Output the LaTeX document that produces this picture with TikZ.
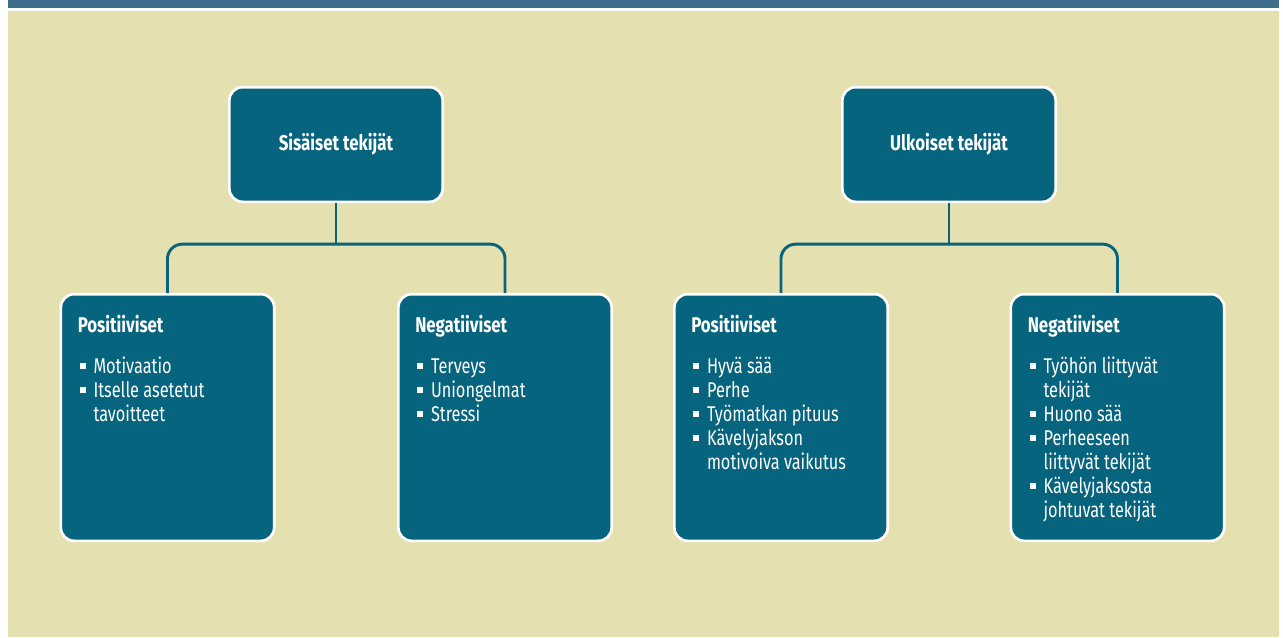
\documentclass[tikz,border=0pt]{standalone}
\usepackage{fontspec}
\usetikzlibrary{calc}
\newfontfamily\cardfont{Fira Sans}[FakeStretch=0.765]
\newfontfamily\headfont{Fira Sans}[FakeStretch=0.79]
\definecolor{band}{HTML}{3D6F8C}
\definecolor{sand}{HTML}{E5E0B0}
\definecolor{petrol}{HTML}{07647E}
\newcommand{\sqbullet}{\makebox[10.3pt][l]{\rule[3pt]{4.5pt}{4.5pt}}}
\newcommand{\sqindent}{\hspace*{10.3pt}}
\newcommand{\firstline}{\rule{0pt}{13pt}}
\tikzset{
  parent/.style={
    draw=white,fill=petrol,rounded corners=10pt,line width=2pt,
    minimum width=160pt,minimum height=86pt,inner sep=0pt,
    text=white,font=\headfont\bfseries\fontsize{16}{18}\selectfont
  },
  card/.style={
    draw=white,fill=petrol,rounded corners=10pt,line width=2pt,
    minimum width=160pt,minimum height=185pt,inner sep=0pt
  },
  heading/.style={text=white,inner sep=0pt,
    font=\headfont\bfseries\fontsize{16}{18}\selectfont},
  items/.style={text=white,inner sep=0pt,align=left,anchor=north west,
    font=\cardfont\fontsize{16}{18}\selectfont},
  link/.style={draw=petrol,line width=2.2pt,rounded corners=11pt}
}

\begin{document}
\begin{tikzpicture}[x=0.75pt,y=-0.75pt]
\useasboundingbox (0,0) rectangle (1283,637);

% background band and sand panel
\fill[band] (8,0) rectangle (1279,7.5);
\fill[sand] (8,10.5) rectangle (1279,637);

\node[parent] (sis) at (336,144.5) {Sisäiset tekijät};
\node[parent] (ulk) at (949,144.5) {Ulkoiset tekijät};

\foreach \name/\x/\title in {
  sisPos/167.5/Positiiviset,
  sisNeg/505/Negatiiviset,
  ulkPos/781/Positiiviset,
  ulkNeg/1117.5/Negatiiviset} {
  \node[card] (\name) at (\x,417.5) {};
  \node[heading,anchor=base west] (\name-h)
    at ($(\name.north west)+(18,40)$) {\title};
}

\foreach \pa/\ca/\cb in {sis/sisPos/sisNeg, ulk/ulkPos/ulkNeg} {
  \draw[link] (\pa.south) -- ++(0,41) coordinate (\pa-j);
  \draw[link] (\pa-j) -| (\ca.north);
  \draw[link] (\pa-j) -| (\cb.north);
}

% first baseline sits 80px below the card top
\node[items] (sisPos-l) at ($(sisPos.north west)+(20,62.7)$) {
  \firstline\sqbullet Motivaatio\\
  \sqbullet Itselle asetetut\\
  \sqindent tavoitteet};
\node[items] (sisNeg-l) at ($(sisNeg.north west)+(20,62.7)$) {
  \firstline\sqbullet Terveys\\
  \sqbullet Uniongelmat\\
  \sqbullet Stressi};
\node[items] (ulkPos-l) at ($(ulkPos.north west)+(20,62.7)$) {
  \firstline\sqbullet Hyvä sää\\
  \sqbullet Perhe\\
  \sqbullet Työmatkan pituus\\
  \sqbullet Kävelyjakson\\
  \sqindent motivoiva vaikutus};
\node[items] (ulkNeg-l) at ($(ulkNeg.north west)+(20,62.7)$) {
  \firstline\sqbullet Työhön liittyvät\\
  \sqindent tekijät\\
  \sqbullet Huono sää\\
  \sqbullet Perheeseen\\
  \sqindent liittyvät tekijät\\
  \sqbullet Kävelyjaksosta\\
  \sqindent johtuvat tekijät};

\end{tikzpicture}
\end{document}
